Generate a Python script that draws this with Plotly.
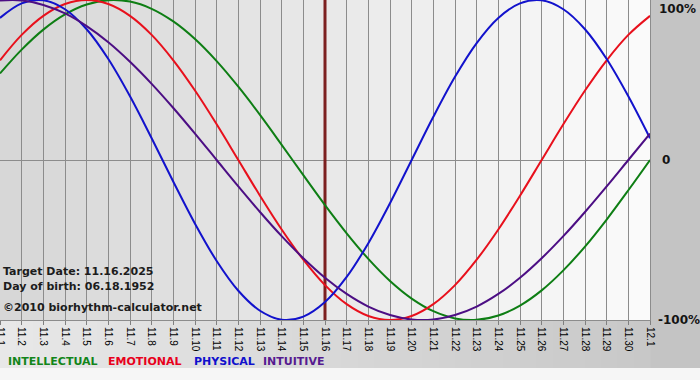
import plotly.graph_objects as go

# ---- data ----
DAY_LABELS = ["11.1", "11.2", "11.3", "11.4", "11.5", "11.6", "11.7", "11.8", "11.9", "11.10",
              "11.11", "11.12", "11.13", "11.14", "11.15", "11.16", "11.17", "11.18", "11.19", "11.20",
              "11.21", "11.22", "11.23", "11.24", "11.25", "11.26", "11.27", "11.28", "11.29", "11.30",
              "12.1"]
DAYS = list(range(len(DAY_LABELS)))

INTELLECTUAL = [0.541, 0.690, 0.815, 0.910, 0.972, 0.999, 0.990, 0.945, 0.866, 0.756, 0.618, 0.458,
                0.282, 0.095, -0.095, -0.282, -0.458, -0.618, -0.756, -0.866, -0.945, -0.990, -0.999,
                -0.972, -0.910, -0.815, -0.690, -0.541, -0.372, -0.189, 0.000]
EMOTIONAL = [0.623, 0.782, 0.901, 0.975, 1.000, 0.975, 0.901, 0.782, 0.623, 0.434, 0.223, 0.000,
             -0.223, -0.434, -0.623, -0.782, -0.901, -0.975, -1.000, -0.975, -0.901, -0.782, -0.623,
             -0.434, -0.223, 0.000, 0.223, 0.434, 0.623, 0.782, 0.901]
PHYSICAL = [0.888, 0.979, 0.998, 0.942, 0.817, 0.631, 0.398, 0.136, -0.136, -0.398, -0.631, -0.817,
            -0.942, -0.998, -0.979, -0.888, -0.731, -0.520, -0.270, 0.000, 0.270, 0.520, 0.731, 0.888,
            0.979, 0.998, 0.942, 0.817, 0.631, 0.398, 0.136]
INTUITIVE = [0.997, 0.997, 0.969, 0.916, 0.837, 0.736, 0.614, 0.476, 0.325, 0.165, 0.000, -0.165,
             -0.325, -0.476, -0.614, -0.736, -0.837, -0.916, -0.969, -0.997, -0.997, -0.969, -0.916,
             -0.837, -0.736, -0.614, -0.476, -0.325, -0.165, 0.000, 0.165]

SERIES_NAMES = ["INTELLECTUAL", "EMOTIONAL", "PHYSICAL", "INTUITIVE"]
TARGET_DAY = 15
INFO_LINES = ["Target Date: 11.16.2025", "Day of birth: 06.18.1952", "©2010 biorhythm-calculator.net"]
Y_LABELS = ["100%", "0", "-100%"]
Y_LABEL_VALUES = [1, 0, -1]

# ---- style ----
COLORS = {"INTELLECTUAL": "#0e7e14", "EMOTIONAL": "#e8101c", "PHYSICAL": "#1212cc", "INTUITIVE": "#4c0e84"}
TEXT_COLORS = {"INTELLECTUAL": "#12851a", "EMOTIONAL": "#e8001c", "PHYSICAL": "#1010cc", "INTUITIVE": "#561a90"}
FONT = "DejaVu Sans"
W, H = 700, 380
ML, MR, MT, MB = 0, 50, 0, 60
PH = H - MT - MB


def mix(c1, c2, t):
    a = [int(c1[i:i + 2], 16) for i in (1, 3, 5)]
    b = [int(c2[i:i + 2], 16) for i in (1, 3, 5)]
    return "#" + "".join("%02x" % round(a[k] + (b[k] - a[k]) * t) for k in range(3))


series = {"INTELLECTUAL": INTELLECTUAL, "EMOTIONAL": EMOTIONAL, "PHYSICAL": PHYSICAL, "INTUITIVE": INTUITIVE}

fig = go.Figure()
for name in SERIES_NAMES:
    fig.add_trace(go.Scatter(x=DAYS, y=series[name], mode="lines", name=name,
                             line=dict(color=COLORS[name], width=2, shape="spline", smoothing=1.0),
                             hoverinfo="skip"))

shapes = []
n = len(DAYS) - 1
# plot-area gradient (one strip per day column)
for i in range(n):
    shapes.append(dict(type="rect", xref="x", yref="paper", x0=DAYS[i], x1=DAYS[i + 1], y0=0, y1=1,
                       layer="below", line=dict(width=0),
                       fillcolor=mix("#d6d6d6", "#fbfbfb", (i + 0.5) / n)))
# bottom band gradient
NB = 40
for i in range(NB):
    shapes.append(dict(type="rect", xref="paper", yref="paper", x0=i / NB, x1=(i + 1) / NB + 0.001,
                       y0=-48 / PH, y1=0, layer="below", line=dict(width=0),
                       fillcolor=mix("#e8e8e8", "#c8c8c8", (i + 0.5) / NB)))
# white strip at bottom
shapes.append(dict(type="rect", xref="paper", yref="paper", x0=0, x1=W / (W - ML - MR) + 0.01,
                   y0=-(MB + 5) / PH, y1=-48 / PH, layer="below", line=dict(width=0),
                   fillcolor="#f6f6f6"))
# target date line
shapes.append(dict(type="line", xref="x", yref="y", x0=TARGET_DAY, x1=TARGET_DAY, y0=-1, y1=1,
                   layer="between", line=dict(color="#7c2020", width=3)))

annotations = []
info_y = [271, 286, 307]
for txt, py in zip(INFO_LINES, info_y):
    annotations.append(dict(xref="paper", yref="paper", x=1 / (W - ML - MR), y=(PH - py) / PH,
                            xanchor="left", yanchor="middle", showarrow=False,
                            text="<b>%s</b>" % txt, font=dict(family=FONT, size=11, color="#1c1c1c")))
y_shift = [7, 10, 6]
y_anchor = ["top", "middle", "middle"]
for txt, v, xs, ya in zip(Y_LABELS, Y_LABEL_VALUES, y_shift, y_anchor):
    annotations.append(dict(xref="paper", yref="y", x=1, y=v, xshift=xs, xanchor="left", yanchor=ya,
                            showarrow=False, text="<b>%s</b>" % txt,
                            font=dict(family=FONT, size=12, color="#141414")))
legend_x = [6, 106, 192, 261]
for name, px in zip(SERIES_NAMES, legend_x):
    annotations.append(dict(xref="paper", yref="paper", x=px / (W - ML - MR), y=(PH - 361) / PH,
                            xanchor="left", yanchor="middle", showarrow=False,
                            text="<b>%s</b>" % name,
                            font=dict(family=FONT, size=11, color=TEXT_COLORS[name])))

fig.update_layout(
    width=W, height=H, margin=dict(l=ML, r=MR, t=MT, b=MB, pad=0, autoexpand=False),
    paper_bgcolor="#c4c4c4", plot_bgcolor="#e6e6e6",
    showlegend=False, shapes=shapes, annotations=annotations,
    xaxis=dict(range=[DAYS[0], DAYS[-1]], tickmode="array", tickvals=DAYS, ticktext=DAY_LABELS,
               tickangle=90, ticks="outside", ticklen=4, tickcolor="#808080", automargin=False,
               ticklabeloverflow="allow",
               tickfont=dict(family="Liberation Sans", size=10, color="#000000"),
               showgrid=True, gridcolor="#8c8c8c", gridwidth=1, zeroline=False,
               showline=True, linecolor="#8c8c8c", linewidth=1, fixedrange=True),
    yaxis=dict(range=[-1, 1], showticklabels=False, showgrid=False, ticks="", automargin=False,
               zeroline=True, zerolinecolor="#8c8c8c", zerolinewidth=1,
               showline=True, mirror=True, linecolor="#8c8c8c", linewidth=1, fixedrange=True),
)

fig.write_html("out.html", config={"displayModeBar": False},
               post_script="document.body.style.margin='0px';document.body.style.overflow='hidden';")
